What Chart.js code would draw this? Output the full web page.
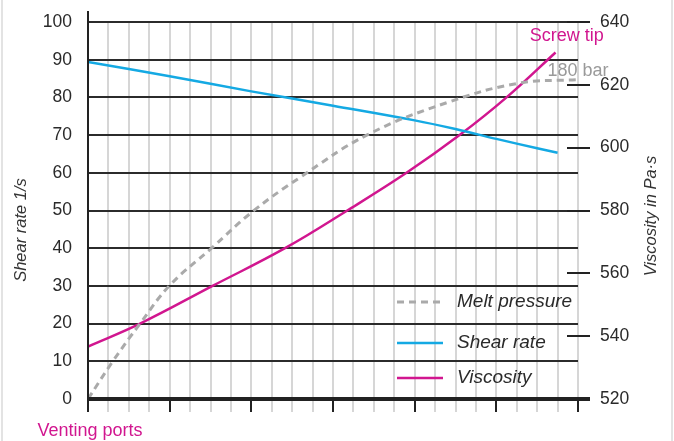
<!DOCTYPE html>
<html>
<head>
<meta charset="utf-8">
<script src="https://cdn.jsdelivr.net/npm/chart.js@4.4.0/dist/chart.umd.min.js"></script>
<style>
  body { margin: 0; background: #fff; }
  canvas { display: block; }
</style>
</head>
<body>
<canvas id="screwChart" width="674" height="441"></canvas>
<script>
// position along the screw: 0 = venting ports, 24 = screw tip
const pressurePos = [0, 1.2, 2.55, 4, 6.05, 8.1, 10.4, 13.7, 17.7, 21.1, 24];
const pressureBar = [0, 21, 42.5, 64, 85, 106, 125, 149, 167.5, 178, 180];

const shearPos = [0, 4, 8, 12, 16, 18, 20, 22, 23];
const shearRate = [89.4, 85.6, 81.6, 77.8, 73.9, 71.6, 69.0, 66.5, 65.3];

const viscPos = [0, 2.55, 6.1, 9.65, 12.7, 15.6, 18.2, 20.5, 22.9];
const viscosity = [536.7, 544, 556, 568, 580, 592, 604, 616, 630.3];

const shearTicks = [0, 10, 20, 30, 40, 50, 60, 70, 80, 90, 100];
const viscTicks = [520, 540, 560, 580, 600, 620, 640];

const FONT = "'Liberation Sans', Arial, Helvetica, sans-serif";
const TEXT = '#2a2a2a';
const MAGENTA = '#d1168f';

function points(xs, ys) {
    return xs.map((x, i) => ({ x: x, y: ys[i] }));
}

function fixTicks(list) {
    return function (scale) {
        scale.ticks = list.map(v => ({ value: v }));
    };
}

// extra drawing: axis lines, right ticks, legend and labels
const extras = {
    id: 'extras',
    afterDraw(chart) {
        const c = chart.ctx;
        const a = chart.chartArea;
        const xs = chart.scales.x;
        const yv = chart.scales.yVisc;
        const yp = chart.scales.yPress;

        function line(x1, y1, x2, y2) {
            c.beginPath();
            c.moveTo(x1, y1);
            c.lineTo(x2, y2);
            c.stroke();
        }

        c.save();
        // faint frame at the picture edges
        c.strokeStyle = '#e3e3e3';
        c.lineWidth = 2;
        line(2, 0, 2, 441);
        line(672, 0, 672, 441);

        // left axis line
        c.strokeStyle = '#222';
        c.lineWidth = 2;
        line(a.left, 11, a.left, a.bottom);

        // right axis ticks
        viscTicks.forEach(v => {
            const y = Math.round(yv.getPixelForValue(v));
            line(a.right - 11, y, a.right + 12, y);
        });

        // thick base line
        c.lineWidth = 4;
        line(a.left - 1, a.bottom, a.right + 12, a.bottom);

        // axis titles
        c.fillStyle = '#333';
        c.font = 'italic 16.5px ' + FONT;
        c.textAlign = 'center';
        c.textBaseline = 'middle';
        c.save();
        c.translate(21, 230);
        c.rotate(-Math.PI / 2);
        c.fillText('Shear rate 1/s', 0, 0);
        c.restore();
        c.save();
        c.translate(651, 216);
        c.rotate(-Math.PI / 2);
        c.fillText('Viscosity in Pa\u00b7s', 0, 0);
        c.restore();

        // annotations
        c.font = '18px ' + FONT;
        c.fillStyle = MAGENTA;
        c.fillText('Venting ports', xs.getPixelForValue(0) + 2, 431);
        c.fillText('Screw tip', xs.getPixelForValue(23.5) - 1, 36);
        c.fillStyle = '#9a9a9a';
        c.fillText('180 bar', xs.getPixelForValue(24), yp.getPixelForValue(180) - 9);

        // legend
        c.font = 'italic 19px ' + FONT;
        c.textAlign = 'left';
        const rows = [302, 343, 378];
        chart.data.datasets.forEach((ds, i) => {
            const y = rows[i];
            c.strokeStyle = ds.borderColor;
            c.lineWidth = ds.borderWidth;
            c.setLineDash(ds.borderDash || []);
            line(397, y, 443, y);
            c.setLineDash([]);
            c.fillStyle = TEXT;
            c.fillText(ds.label, 457, y);
        });
        c.restore();
    }
};

new Chart(document.getElementById('screwChart'), {
    type: 'line',
    data: {
        datasets: [{
            label: 'Melt pressure',
            data: points(pressurePos, pressureBar),
            yAxisID: 'yPress',
            borderColor: '#aaaaaa',
            borderWidth: 3,
            borderDash: [7, 5],
            tension: 0.4,
            pointRadius: 0
        }, {
            label: 'Shear rate',
            data: points(shearPos, shearRate),
            yAxisID: 'yShear',
            borderColor: '#14a9e3',
            borderWidth: 2.5,
            tension: 0.4,
            pointRadius: 0
        }, {
            label: 'Viscosity',
            data: points(viscPos, viscosity),
            yAxisID: 'yVisc',
            borderColor: MAGENTA,
            borderWidth: 2.5,
            tension: 0.4,
            pointRadius: 0
        }]
    },
    options: {
        responsive: false,
        animation: false,
        devicePixelRatio: 1,
        layout: { padding: { top: 22, left: 0, right: 0, bottom: 0 } },
        plugins: { legend: { display: false }, tooltip: { enabled: false } },
        scales: {
            x: {
                type: 'linear',
                min: 0,
                max: 24,
                ticks: { stepSize: 1, display: false },
                grid: {
                    color: '#d6d6d6',
                    lineWidth: 2,
                    tickLength: 13,
                    tickColor: ctx => (ctx.tick && ctx.tick.value % 4 === 0) ? '#222' : '#d6d6d6',
                    tickWidth: 2
                },
                border: { display: false },
                afterFit: scale => { scale.height = 42; }
            },
            yShear: {
                position: 'left',
                min: 0,
                max: 100,
                afterBuildTicks: fixTicks(shearTicks),
                ticks: { color: TEXT, font: { family: FONT, size: 17.5 }, padding: 0 },
                grid: { color: '#2b2b2b', lineWidth: 2, drawTicks: true, tickLength: 16, tickColor: 'rgba(0,0,0,0)' },
                border: { display: false },
                afterFit: scale => { scale.width = 88; }
            },
            yVisc: {
                position: 'right',
                min: 520,
                max: 640,
                afterBuildTicks: fixTicks(viscTicks),
                ticks: { color: TEXT, font: { family: FONT, size: 17.5 }, padding: 0 },
                grid: { drawOnChartArea: false, tickLength: 22, tickColor: 'rgba(0,0,0,0)' },
                border: { display: false },
                afterFit: scale => { scale.width = 96; }
            },
            yPress: {
                display: false,
                min: 0,
                max: 212.5
            }
        }
    },
    plugins: [extras]
});
</script>
</body>
</html>
